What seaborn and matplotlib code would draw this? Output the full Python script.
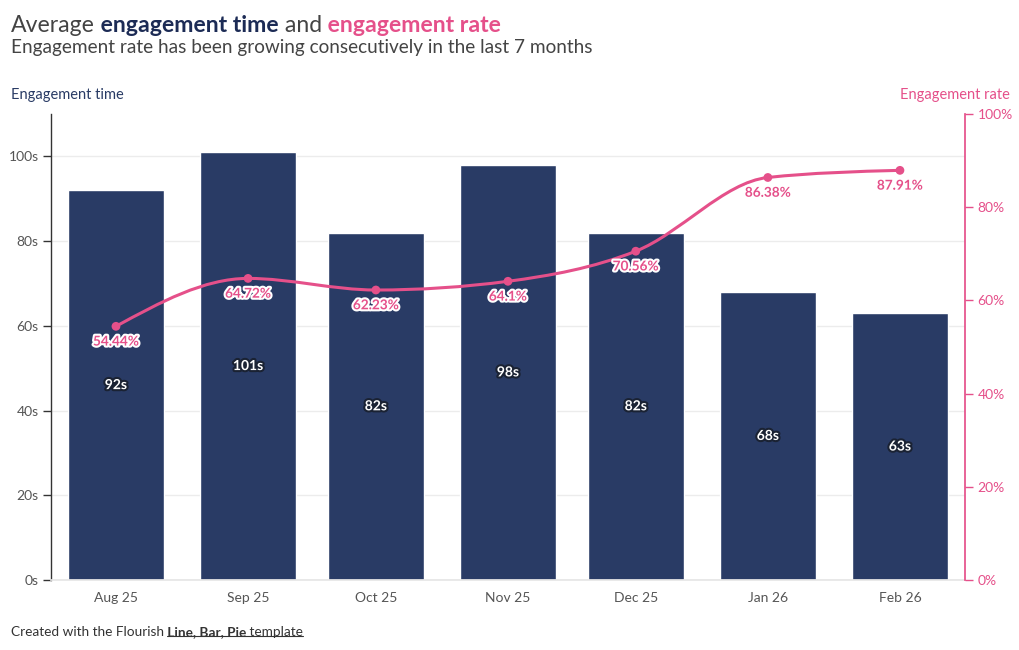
import numpy as np
import pandas as pd
import seaborn as sns
import matplotlib.pyplot as plt
import matplotlib.dates as mdates
import matplotlib.patheffects as pe
from matplotlib.path import Path
from matplotlib.patches import PathPatch
from matplotlib.lines import Line2D

months = ['2025-08-01', '2025-09-01', '2025-10-01', '2025-11-01',
          '2025-12-01', '2026-01-01', '2026-02-01']
month_labels = ['Aug 25', 'Sep 25', 'Oct 25', 'Nov 25', 'Dec 25', 'Jan 26', 'Feb 26']
eng_time = [92, 101, 82, 98, 82, 68, 63]
eng_rate = [54.44, 64.72, 62.23, 64.1, 70.56, 86.38, 87.91]

NAVY = '#293b65'
NAVY_T = '#1c2b55'
PINK = '#e5508a'
GREY = '#555555'

sns.set_theme(style='white')
plt.rcParams['font.family'] = ['Lato', 'DejaVu Sans']

xnum = mdates.date2num(pd.to_datetime(months))
df = pd.DataFrame({'x': xnum, 'time': eng_time, 'rate': eng_rate})

fig = plt.figure(figsize=(10.2, 6.5), dpi=100)
ax = fig.add_axes([0.05, 0.1077, 0.896, 0.7169])

sns.barplot(data=df, x='x', y='time', native_scale=True, width=0.75,
            color=NAVY, saturation=1, ax=ax, zorder=2)
ax.set_xlim(xnum[0] - 15.25, xnum[-1] + 15.25)
ax.set_ylim(0, 110)
ax.set_yticks(range(0, 101, 20))
ax.set_yticklabels([f'{v}s' for v in range(0, 101, 20)])
ax.set_xticks(xnum)
ax.set_xticklabels(month_labels)
ax.set_xlabel('')
ax.set_ylabel('')
ax.yaxis.grid(True, color='#ececec', lw=1, zorder=0)
ax.set_axisbelow(True)
for s in ['top', 'right']:
    ax.spines[s].set_visible(False)
ax.spines['left'].set_color('#333333')
ax.spines['left'].set_linewidth(1)
ax.spines['bottom'].set_color('#e6e6e6')
ax.tick_params(axis='y', left=True, length=6, width=1, color='#333333',
               labelsize=10, labelcolor=GREY, pad=3)
ax.tick_params(axis='x', bottom=False, labelsize=10, labelcolor=GREY, pad=3)

for xv, v in zip(xnum, eng_time):
    ax.text(xv, v / 2, f'{v}s', ha='center', va='center', color='white',
            fontsize=10, fontweight='bold', zorder=5,
            path_effects=[pe.withStroke(linewidth=3, foreground='#1a2233')])

ax2 = ax.twinx()
ax2.set_ylim(0, 100)
ax2.set_yticks(range(0, 101, 20))
ax2.set_yticklabels([f'{v}%' for v in range(0, 101, 20)])
for s in ['top', 'left', 'bottom']:
    ax2.spines[s].set_visible(False)
ax2.spines['right'].set_color(PINK)
ax2.tick_params(axis='y', right=True, length=6, width=1, color=PINK,
                labelsize=10, labelcolor=PINK, pad=3)
ax2.grid(False)

# monotone cubic curve through the rate points
xs = np.array(xnum, dtype=float)
ys = np.array(eng_rate, dtype=float)
h = np.diff(xs)
s = np.diff(ys) / h
t = np.zeros(len(xs))
for i in range(1, len(xs) - 1):
    if s[i - 1] * s[i] <= 0:
        t[i] = 0
    else:
        p = (s[i - 1] * h[i] + s[i] * h[i - 1]) / (h[i - 1] + h[i])
        t[i] = (np.sign(s[i - 1]) + np.sign(s[i])) * min(abs(s[i - 1]), abs(s[i]), 0.5 * abs(p))
t[0] = (3 * s[0] - t[1]) / 2
t[-1] = (3 * s[-1] - t[-2]) / 2
verts = [(xs[0], ys[0])]
codes = [Path.MOVETO]
for i in range(len(xs) - 1):
    dx = h[i] / 3
    verts += [(xs[i] + dx, ys[i] + dx * t[i]),
              (xs[i + 1] - dx, ys[i + 1] - dx * t[i + 1]),
              (xs[i + 1], ys[i + 1])]
    codes += [Path.CURVE4] * 3
ax2.add_patch(PathPatch(Path(verts, codes), fill=False, edgecolor=PINK, lw=2.2, zorder=3))
sns.scatterplot(data=df, x='x', y='rate', color=PINK, s=40, edgecolor='none',
                ax=ax2, zorder=4)
ax2.set_xlabel('')
ax2.set_ylabel('')
for xv, v in zip(xnum, eng_rate):
    ax2.annotate(f'{v:g}%', (xv, v), xytext=(0, -11), textcoords='offset points',
                 ha='center', va='center', color=PINK, fontsize=9.8, fontweight='bold',
                 zorder=6, path_effects=[pe.withStroke(linewidth=3, foreground='white')])

# titles
t1 = fig.text(0.011, 0.95, 'Average', fontsize=16.6, color='#444444', va='baseline')
t2 = ax.annotate(' engagement time', xy=(1, 0), xycoords=t1, fontsize=16.6,
                 fontweight='bold', color=NAVY_T, va='bottom', annotation_clip=False)
t3 = ax.annotate(' and', xy=(1, 0), xycoords=t2, fontsize=16.6,
                 color='#444444', va='bottom', annotation_clip=False)
t4 = ax.annotate(' engagement rate', xy=(1, 0), xycoords=t3, fontsize=16.6,
                 fontweight='bold', color=PINK, va='bottom', annotation_clip=False)
fig.text(0.011, 0.918, 'Engagement rate has been growing consecutively in the last 7 months',
         fontsize=13.7, color='#444444', va='baseline')
fig.text(0.011, 0.848, 'Engagement time', fontsize=10.5, color=NAVY, va='baseline')
fig.text(0.99, 0.848, 'Engagement rate', fontsize=10.5, color=PINK, va='baseline', ha='right')

f1 = fig.text(0.011, 0.022, 'Created with the Flourish', fontsize=9.8, color='#333333', va='baseline')
f2 = ax.annotate(' Line, Bar, Pie', xy=(1, 0), xycoords=f1, fontsize=9.8, fontweight='bold',
                 color='#333333', va='bottom', annotation_clip=False)
f3 = ax.annotate(' template', xy=(1, 0), xycoords=f2, fontsize=9.8,
                 color='#333333', va='bottom', annotation_clip=False)

fig.canvas.draw()
r = fig.canvas.get_renderer()
b2 = f2.get_window_extent(r)
b3 = f3.get_window_extent(r)
W, H = fig.bbox.width, fig.bbox.height
x0 = (b2.x0 + 3) / W
x1 = b3.x1 / W
yl = (b2.y0 + 2) / H
fig.add_artist(Line2D([x0, x1], [yl, yl], color='#333333', lw=0.8))

fig.savefig('out.png', dpi=100)
